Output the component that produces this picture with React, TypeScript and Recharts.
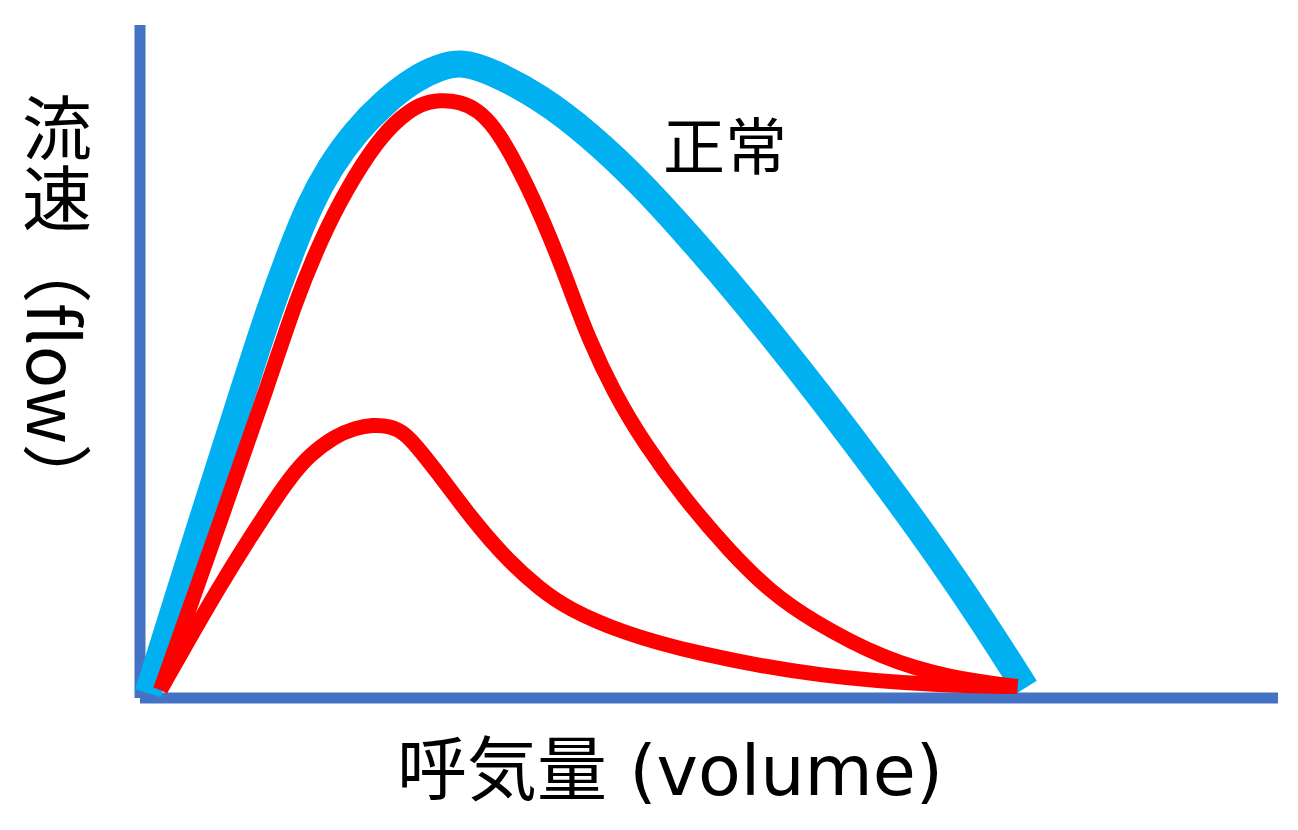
import { Line, LineChart, ReferenceLine, XAxis, YAxis } from "recharts";

// flow-volume curves, volume & flow as % of the axis range
const normalVolume = [0.7, 5.7, 9.4, 11.4, 13.2, 14.9, 16.7, 18.9, 21.5, 24.2, 26.4, 28.3, 30.8, 35.2, 39.5, 43.9, 48.3, 52.6, 59.8, 66.3, 70.1, 74.0, 77.8];
const normalFlow = [0.7, 27.8, 47.4, 57.8, 66.1, 73.3, 78.9, 84.1, 88.6, 92.1, 93.8, 94.5, 93.2, 89.3, 83.7, 76.7, 68.5, 60.1, 44.9, 30.2, 21.3, 11.6, 1.5];

const mildVolume = [1.8, 7.4, 11.3, 13.7, 15.9, 18.1, 20.9, 22.9, 24.6, 26.4, 28.1, 29.7, 31.2, 32.5, 34.0, 35.4, 36.9, 37.9, 39.4, 41.6, 44.4, 47.7, 51.9, 55.4, 58.9, 65.4, 71.2, 77.1];
const mildFlow = [1.2, 27.9, 46.8, 59.1, 68.1, 75.5, 82.9, 86.3, 88.3, 88.9, 88.6, 87.4, 84.7, 81.1, 76.2, 71.0, 64.8, 60.3, 53.5, 45.5, 37.6, 29.9, 21.6, 15.8, 11.6, 5.7, 3.0, 1.7];

const severeVolume = [1.8, 7.0, 11.1, 13.2, 14.9, 17.1, 18.9, 20.4, 22.0, 23.3, 24.4, 25.8, 29.3, 32.3, 35.2, 37.6, 42.2, 48.8, 59.8, 70.9, 77.1];
const severeFlow = [1.2, 16.8, 27.6, 32.8, 36.1, 38.9, 40.1, 40.6, 40.4, 39.3, 37.2, 34.3, 26.3, 20.5, 16.1, 13.3, 9.8, 6.6, 3.1, 1.8, 1.7];

const X_LABEL = "呼気量 (volume)";
const Y_LABEL = "流速（flow）";
const NORMAL_LABEL = "正常";

const toPoints = (vs: number[], fs: number[]) =>
  vs.map((v, i) => ({ volume: v, flow: fs[i] }));

const AXIS = "#4472C4";
const BLUE = "#00B0F0";
const RED = "#FF0000";
const FONT = "'DejaVu Sans', 'Noto Sans CJK JP', sans-serif";
const CJK_FONT = "'Noto Sans CJK JP', sans-serif";

export default function App() {
  return (
    <div style={{ position: "absolute", left: 0, top: 0, background: "#fff" }}>
      <LineChart
        width={1298}
        height={830}
        margin={{ top: 25, right: 20, bottom: 132, left: 140 }}
      >
        <XAxis type="number" dataKey="volume" domain={[0, 100]} hide />
        <YAxis type="number" dataKey="flow" domain={[0, 100]} hide />
        <ReferenceLine x={0} stroke={AXIS} strokeWidth={11} />
        <ReferenceLine y={0} stroke={AXIS} strokeWidth={11} />
        <Line
          data={toPoints(normalVolume, normalFlow)}
          dataKey="flow"
          type="basis"
          stroke={BLUE}
          strokeWidth={27}
          dot={false}
          activeDot={false}
          isAnimationActive={false}
        />
        <Line
          data={toPoints(mildVolume, mildFlow)}
          dataKey="flow"
          type="basis"
          stroke={RED}
          strokeWidth={15}
          dot={false}
          activeDot={false}
          isAnimationActive={false}
        />
        <Line
          data={toPoints(severeVolume, severeFlow)}
          dataKey="flow"
          type="basis"
          stroke={RED}
          strokeWidth={15}
          dot={false}
          activeDot={false}
          isAnimationActive={false}
        />
        <text x={663} y={170} fontSize={62} fontFamily={FONT} fill="#000">
          {NORMAL_LABEL}
        </text>
        <text x={670} y={795} fontSize={70} fontFamily={FONT} fill="#000" textAnchor="middle">
          {X_LABEL}
        </text>
        <text
          x={57}
          y={93}
          fontSize={70}
          fontFamily={CJK_FONT}
          fill="#000"
          style={{ writingMode: "vertical-rl" }}
        >
          {Y_LABEL}
        </text>
      </LineChart>
    </div>
  );
}
